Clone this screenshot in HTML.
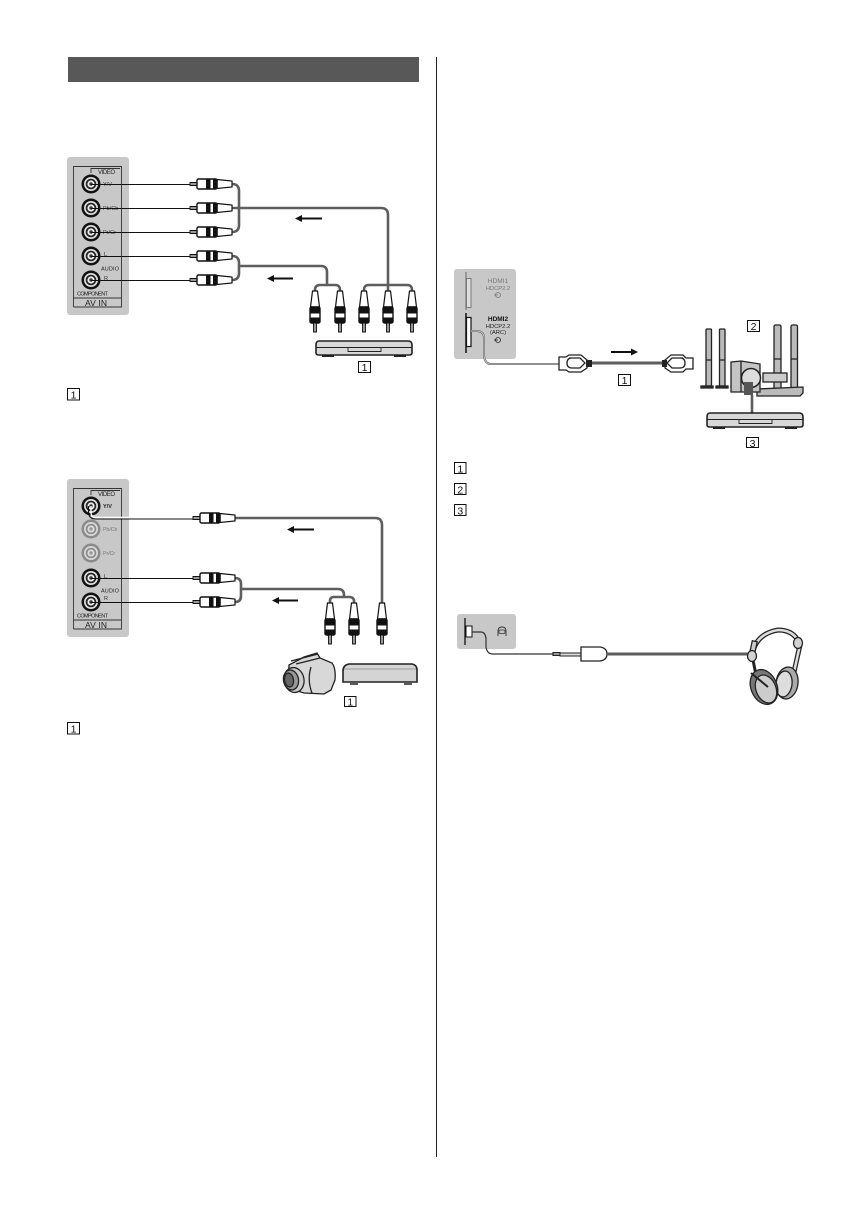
<!DOCTYPE html>
<html><head><meta charset="utf-8">
<style>
html,body{margin:0;padding:0;background:#fff}
svg{display:block;filter:blur(.3px)}
text{font-family:"Liberation Sans",sans-serif}
</style></head><body>
<svg xmlns="http://www.w3.org/2000/svg" width="856" height="1225" viewBox="0 0 856 1225">
<defs>
<g id="hp">
  <path d="M0 -1.500H7V1.500H0Z" fill="#999" stroke="#111" stroke-width=".9"/>
  <path d="M27 -4.500L42 -3V3L27 4.500Z" fill="#fff" stroke="#111" stroke-width="1.200"/>
  <rect x="7" y="-5" width="20" height="10" rx="1.500" fill="#fff" stroke="#111" stroke-width="1.400"/>
  <rect x="16" y="-5" width="4.500" height="10" fill="#111"/>
  <rect x="23" y="-5" width="4" height="10" fill="#111"/>
</g>
<g id="vp">
  <path d="M-2.500 0H2.500L4.500 16H-4.500Z" fill="#fff" stroke="#111" stroke-width="1.200"/>
  <rect x="-5" y="16" width="10" height="16" rx="1.500" fill="#fff" stroke="#111" stroke-width="1.400"/>
  <rect x="-5" y="16" width="10" height="6.500" fill="#111"/>
  <rect x="-5" y="26.500" width="10" height="5.500" fill="#111"/>
  <path d="M-1.500 32H1.500V41H-1.500Z" fill="#999" stroke="#111" stroke-width=".9"/>
</g>
<g id="j">
  <circle r="9.500" fill="#111"/><circle r="7" fill="#ddd"/><circle r="5.300" fill="#222"/><circle r="3.600" fill="#eee"/><circle r="1.700" fill="#333"/>
</g>
<g id="jg">
  <circle r="9.500" fill="#8a8a8a"/><circle r="7" fill="#d8d8d8"/><circle r="5.300" fill="#8a8a8a"/><circle r="3.600" fill="#ddd"/><circle r="1.700" fill="#999"/>
</g>
<g id="bd">
  <path d="M3 0H92Q96 0 96 4V12Q96 14 93 14H3Q0 14 0 12V4Q0 0 3 0Z" fill="#d8d8d8" stroke="#222" stroke-width="1.600"/>
  <path d="M0 6.500H96" stroke="#222" stroke-width="1.100"/>
  <path d="M32 6.500V10.500H65V6.500" fill="none" stroke="#222" stroke-width=".9"/>
  <rect x="6" y="14" width="12" height="2" fill="#222"/><rect x="78" y="14" width="12" height="2" fill="#222"/>
</g>
</defs>

<!-- header and column rule -->
<rect x="68" y="57" width="351" height="25" fill="#585858"/>
<path d="M436.500 57V1157" stroke="#222" stroke-width="1"/>

<!-- PANEL 1 -->
<rect x="67" y="157" width="62" height="158" rx="3" fill="#c8c8c8"/>
<path d="M73.500 307V166.500H121.500V307H73.500M73.500 298H121.500M91 173V168.500H120" fill="none" stroke="#333" stroke-width=".9"/>
<text x="98" y="174" font-size="6" fill="#222" textLength="17">VIDEO</text>
<g font-size="5.500" fill="#333"><text x="103" y="186">Y/V</text><text x="103" y="210">Pb/Cb</text><text x="103" y="234">Pr/Cr</text><text x="104" y="256">L</text><text x="104" y="280">R</text></g>
<use href="#j" x="91" y="184"/><use href="#j" x="91" y="208"/><use href="#j" x="91" y="232"/><use href="#j" x="91" y="256"/><use href="#j" x="91" y="280"/>
<text x="101" y="270.500" font-size="5.500" fill="#222" textLength="18">AUDIO</text>
<text x="77" y="295.500" font-size="5.500" fill="#222" textLength="31">COMPONENT</text>
<text x="85" y="306" font-size="8.500" fill="#222" textLength="22">AV IN</text>
<path d="M91 184.500H190M91 208.500H190M91 232.500H190M91 256.500H190M91 280.500H190" stroke="#111" stroke-width="1.100"/>
<g fill="none" stroke="#5e5e5e" stroke-width="2.600">
  <path d="M232 184Q239 184 239 191V225Q239 232 232 232"/>
  <path d="M232 208H381Q388 208 388 215V291"/>
  <path d="M364 291V290Q364 285 369 285H407Q412 285 412 290V291"/>
  <path d="M232 256Q239 256 239 263V273Q239 280 232 280"/>
  <path d="M239 266H321Q327 266 327 272V285"/>
  <path d="M315 291V290Q315 285 320 285H335Q340 285 340 290V291"/>
</g>
<use href="#hp" x="190" y="184"/><use href="#hp" x="190" y="208"/><use href="#hp" x="190" y="232"/><use href="#hp" x="190" y="256"/><use href="#hp" x="190" y="280"/>
<use href="#vp" x="315" y="291"/><use href="#vp" x="340" y="291"/><use href="#vp" x="364" y="291"/><use href="#vp" x="388" y="291"/><use href="#vp" x="412" y="291"/>
<path d="M322 218.500H300" stroke="#111" stroke-width="2"/><path d="M295 218.500L302 215V222Z" fill="#111"/>
<path d="M293 278.500H272" stroke="#111" stroke-width="2"/><path d="M267 278.500L274 275V282Z" fill="#111"/>
<use href="#bd" x="316" y="341"/>
<rect x="358.500" y="361.500" width="12" height="11" fill="#fff" stroke="#111" stroke-width="1"/>
<text x="364.500" y="371" font-size="10.500" text-anchor="middle" fill="#111">1</text>
<rect x="67.500" y="388.500" width="12" height="11.500" fill="#fff" stroke="#111" stroke-width="1"/>
<text x="73.500" y="398.500" font-size="10.500" text-anchor="middle" fill="#111">1</text>

<!-- PANEL 2 -->
<rect x="67" y="479" width="62" height="158" rx="3" fill="#c8c8c8"/>
<path d="M73.500 629V488.500H121.500V629H73.500M73.500 620H121.500M91 495V490.500H120" fill="none" stroke="#333" stroke-width=".9"/>
<text x="98" y="496" font-size="6" fill="#222" textLength="17">VIDEO</text>
<use href="#j" x="91" y="506"/><use href="#jg" x="91" y="529"/><use href="#jg" x="91" y="553"/><use href="#j" x="91" y="578"/><use href="#j" x="91" y="602"/>
<text x="103" y="508" font-size="5.500" font-weight="bold" fill="#222">Y/V</text>
<text x="103" y="531" font-size="5.200" fill="#777">Pb/Cb</text>
<text x="103" y="555" font-size="5.200" fill="#777">Pr/Cr</text>
<text x="104" y="578" font-size="5.500" fill="#333">L</text>
<text x="104" y="600" font-size="5.500" fill="#333">R</text>
<text x="101" y="592.500" font-size="5.500" fill="#222" textLength="18">AUDIO</text>
<text x="77" y="617.500" font-size="5.500" fill="#222" textLength="31">COMPONENT</text>
<text x="85" y="628" font-size="8.500" fill="#222" textLength="22">AV IN</text>
<path d="M88.500 506V512Q88.500 519 96 519H193" fill="none" stroke="#111" stroke-width="1.100"/>
<path d="M91 506V512Q91 517.500 96 517.500H193" fill="none" stroke="#fff" stroke-width="1.400"/>
<path d="M91 578.500H193M91 602.500H193" stroke="#111" stroke-width="1.100"/>
<g fill="none" stroke="#5e5e5e" stroke-width="2.600">
  <path d="M235 518H375Q382 518 382 525V603"/>
  <path d="M235 578Q241 578 241 584V596Q241 602 235 602"/>
  <path d="M241 589H338Q344 589 344 595V597"/>
  <path d="M330 603V601Q330 597 334 597H349Q354 597 354 601V603"/>
</g>
<use href="#hp" x="193" y="518"/><use href="#hp" x="193" y="578"/><use href="#hp" x="193" y="602"/>
<use href="#vp" x="330" y="603"/><use href="#vp" x="354" y="603"/><use href="#vp" x="382" y="603"/>
<path d="M314 529.500H292" stroke="#111" stroke-width="2"/><path d="M287 529.500L294 526V533Z" fill="#111"/>
<path d="M298 600.500H277" stroke="#111" stroke-width="2"/><path d="M272 600.500L279 597V604Z" fill="#111"/>
<!-- camcorder -->
<g stroke="#222" stroke-width="1.300">
  <path d="M289 665L304 657L317 653L320 658L332 663Q336 668 335 680L331 690L324 694L304 693L288 688Z" fill="#d8d8d8"/>
  <path d="M291 661L318 654" fill="none"/>
  <path d="M296 664L320 658" fill="none"/>
  <path d="M311 667Q307 680 312 693" fill="none"/>
  <ellipse cx="294" cy="680" rx="10" ry="12.500" fill="#ccc" transform="rotate(-10 294 680)"/>
  <ellipse cx="291" cy="680" rx="7.500" ry="10" fill="#999" transform="rotate(-10 291 680)"/>
  <ellipse cx="289" cy="680" rx="4.500" ry="7" fill="#666" transform="rotate(-10 289 680)"/>
</g>
<!-- box device -->
<path d="M343 671Q343 665 349 664H412Q417 665 417 670V682H343Z" fill="#d4d4d4" stroke="#222" stroke-width="1.600"/>
<path d="M344 669H416" stroke="#888" stroke-width=".8"/>
<path d="M350 684H358M404 684H412" stroke="#222" stroke-width="1.500"/>
<rect x="344.500" y="696.500" width="11.500" height="10" fill="#fff" stroke="#111" stroke-width="1"/>
<text x="350.300" y="705.500" font-size="10" text-anchor="middle" fill="#111">1</text>
<rect x="67.500" y="722.500" width="12" height="11.500" fill="#fff" stroke="#111" stroke-width="1"/>
<text x="73.500" y="732.500" font-size="10.500" text-anchor="middle" fill="#111">1</text>

<!-- HDMI panel -->
<rect x="454" y="269" width="62" height="90" rx="3" fill="#c8c8c8"/>
<path d="M466 272V310" stroke="#777" stroke-width="1.200"/>
<rect x="466.500" y="278.500" width="4.500" height="29" fill="#ddd" stroke="#777"/>
<path d="M466 313V353" stroke="#111" stroke-width="1.500"/>
<rect x="466.500" y="317.500" width="4.500" height="29" fill="#fff" stroke="#111" stroke-width="1.200"/>
<g text-anchor="middle">
  <text x="498" y="283" fill="#777" font-size="6.500">HDMI1</text>
  <text x="498" y="290" fill="#777" font-size="5.800">HDCP2.2</text>
  <text x="498" y="321" fill="#111" font-size="6.500" font-weight="bold">HDMI2</text>
  <text x="498" y="328" fill="#222" font-size="5.800">HDCP2.2</text>
  <text x="498" y="334" fill="#222" font-size="5.800">(ARC)</text>
</g>
<circle cx="498" cy="295" r="2.500" fill="none" stroke="#777" stroke-width=".8"/><path d="M494 295H498" stroke="#777" stroke-width=".8"/>
<circle cx="498" cy="340" r="2.500" fill="none" stroke="#222" stroke-width=".8"/><path d="M494 340H498" stroke="#222" stroke-width=".8"/>
<path d="M471 331H477Q483 331 484 337V356Q485 364 491 364H560" fill="none" stroke="#555" stroke-width="2"/>
<path d="M471 331H477Q483 331 484 337V356Q485 364 491 364H560" fill="none" stroke="#ccc" stroke-width="1"/>
<path d="M590 363H664" stroke="#5e5e5e" stroke-width="3"/>
<g fill="#fff" stroke="#222" stroke-width="1.300">
  <path d="M559 357H566L569 355H581L587 360V368L581 372H569L566 370H559Z"/>
  <path d="M569 358H580L585 363L580 368H572Q567 368 567 363Q567 358 572 358Z"/>
  <path d="M693 358H686L683 355H671L665 360V368L671 372H683L686 369H693Z"/>
  <path d="M683 358H672L667 363L672 368H680Q685 368 685 363Q685 358 680 358Z"/>
</g>
<rect x="586" y="360" width="6" height="7" fill="#222"/><rect x="662" y="360" width="5" height="7" fill="#222"/>
<path d="M611 352H633" stroke="#111" stroke-width="2"/><path d="M638 352L631 348.500V355.500Z" fill="#111"/>
<rect x="618.500" y="374.500" width="12" height="11" fill="#fff" stroke="#111" stroke-width="1"/>
<text x="624.500" y="384" font-size="10.500" text-anchor="middle" fill="#111">1</text>
<!-- home theatre -->
<g stroke="#222" stroke-width="1.300">
  <rect x="706" y="329" width="5.500" height="57" rx="1" fill="#bbb"/><rect x="719.500" y="329" width="5.500" height="57" rx="1" fill="#bbb"/>
  <path d="M706 360H712M719 360H725" fill="none"/>
  <rect x="701" y="386" width="12" height="2" fill="#333"/><rect x="716" y="386" width="12" height="2" fill="#333"/>
  <rect x="774" y="325" width="7" height="64" rx="1.500" fill="#bbb"/><rect x="791" y="325" width="6.500" height="64" rx="1.500" fill="#bbb"/>
  <path d="M774 359H781M791 359H797" fill="none"/>
  <path d="M757 389L803 387V393L800 396H757Z" fill="#bbb"/>
  <rect x="763" y="373" width="24" height="9" fill="#ccc"/>
  <path d="M731 362L741 361L760 364V392L731 392Z" fill="#c4c4c4"/>
  <path d="M741 361V392" fill="none"/>
  <circle cx="751" cy="378" r="9.500" fill="#ddd" stroke-width="1.500"/>
</g>
<rect x="744" y="382" width="9" height="13" fill="#555"/>
<path d="M752 395V414" stroke="#5e5e5e" stroke-width="2.600"/>
<rect x="747.500" y="320.500" width="12" height="11" fill="#fff" stroke="#111" stroke-width="1"/>
<text x="753.500" y="330" font-size="10.500" text-anchor="middle" fill="#111">2</text>
<use href="#bd" x="707" y="413"/>
<rect x="746.500" y="437.500" width="12" height="10" fill="#fff" stroke="#111" stroke-width="1"/>
<text x="752.500" y="447" font-size="10.500" text-anchor="middle" fill="#111">3</text>
<g font-size="10.500" text-anchor="middle" fill="#111" stroke-width="1">
  <rect x="454.500" y="462.500" width="11.500" height="11" fill="#fff" stroke="#111"/><text x="460.300" y="472.300">1</text>
  <rect x="454.500" y="483.500" width="11.500" height="11" fill="#fff" stroke="#111"/><text x="460.300" y="493.300">2</text>
  <rect x="454.500" y="504.500" width="11.500" height="11" fill="#fff" stroke="#111"/><text x="460.300" y="514.300">3</text>
</g>

<!-- Headphone panel -->
<rect x="457" y="614" width="59" height="35" rx="3" fill="#c8c8c8"/>
<path d="M465 618V645" stroke="#111" stroke-width="1.300"/>
<rect x="466" y="626" width="6" height="11" fill="#fff" stroke="#111"/>
<path d="M472 632H481Q485 632 486 638V647Q487 654 493 654H553" fill="none" stroke="#333" stroke-width="1.200"/>
<path d="M498 636V631Q498 627 502 627Q506 627 506 631V636" fill="none" stroke="#333" stroke-width=".9"/>
<rect x="499" y="630" width="6" height="3.500" rx="1" fill="none" stroke="#333" stroke-width=".8"/>
<path d="M553 652.500H560V655.500H553Z" fill="#999" stroke="#222" stroke-width="1.100"/>
<path d="M560 653H581V656H560Z" fill="#ddd" stroke="#222" stroke-width="1"/>
<path d="M581 647H600Q607 648 607 654Q607 660 600 661H581Z" fill="#fff" stroke="#222" stroke-width="1.300"/>
<path d="M607 654H750" stroke="#5e5e5e" stroke-width="3"/>
<!-- headphones -->
<g stroke="#222" stroke-width="1.300" fill="#d2d2d2">
  <path d="M752 656Q755 634 778 630Q795 630 800 645L794 672" fill="none" stroke-width="5"/>
  <path d="M752 656Q755 634 778 630Q795 630 800 645L794 672" fill="none" stroke="#ddd" stroke-width="2.500"/>
  <path d="M753 660L757 680" fill="none" stroke-width="3"/>
  <rect x="751" y="641" width="5" height="13" transform="rotate(12 753 647)" fill="#ccc"/>
  <ellipse cx="752" cy="656" rx="4.500" ry="5.500"/>
  <ellipse cx="798" cy="643" rx="4.500" ry="5.500"/>
  <ellipse cx="787" cy="683" rx="11" ry="16" fill="#aaa" transform="rotate(8 787 683)"/>
  <ellipse cx="784" cy="684" rx="8" ry="13" fill="#ddd" transform="rotate(8 784 684)"/>
  <ellipse cx="764" cy="687" rx="13" ry="18" fill="#777" transform="rotate(-22 764 687)"/>
  <ellipse cx="766" cy="689" rx="10" ry="14.500" fill="#ccc" transform="rotate(-22 766 689)"/>
  <path d="M751 673L768 687" fill="none" stroke-width="2"/>
</g>
</svg>
</body></html>
